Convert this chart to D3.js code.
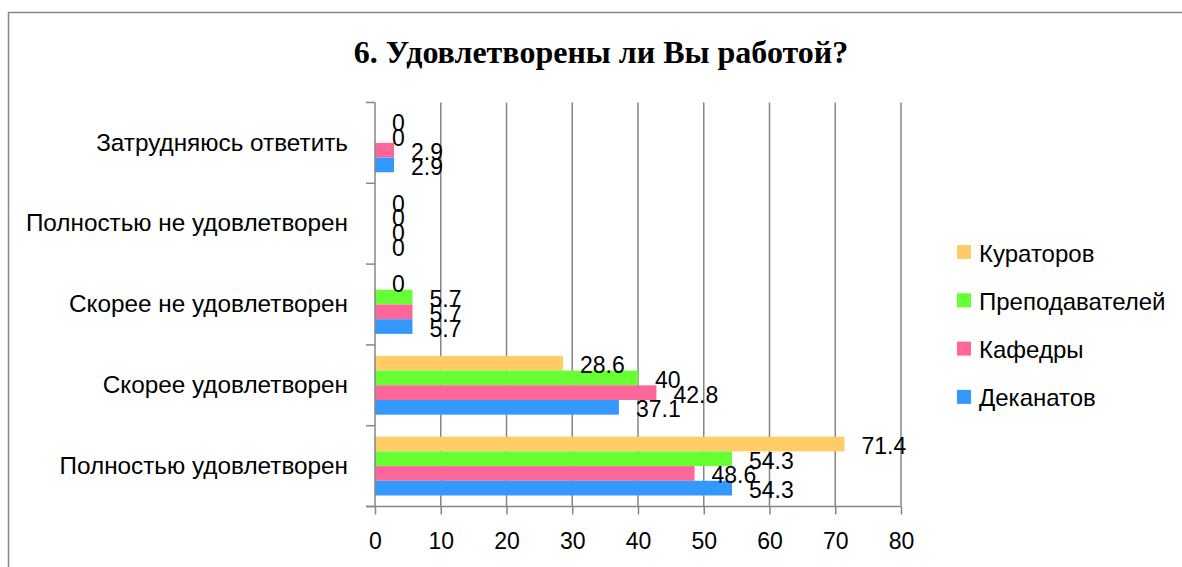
<!DOCTYPE html>
<html>
<head>
<meta charset="utf-8">
<script src="https://cdn.jsdelivr.net/npm/d3@7"></script>
<style>
  body { margin: 0; background: #fff; }
  svg { display: block; }
  .title { font-family: "Liberation Serif", "Times New Roman", serif; font-weight: bold; font-size: 32px; fill: #000; }
  .lbl, .tick text, .legend text { font-family: "Liberation Sans", Arial, sans-serif; fill: #000; }
  .axis path, .axis line { stroke: #868686; stroke-width: 1.5px; }
  .grid line { stroke: #868686; stroke-width: 1.5px; }
</style>
</head>
<body>
<div id="chart"></div>
<script>
// data
var categories = [
  'Затрудняюсь ответить',
  'Полностью не удовлетворен',
  'Скорее не удовлетворен',
  'Скорее удовлетворен',
  'Полностью удовлетворен'
];
var seriesNames = ['Кураторов', 'Преподавателей', 'Кафедры', 'Деканатов'];
var seriesColors = ['#FFCC66', '#66FF33', '#FF6699', '#3399FF'];
var kuratorov = [0, 0, 0, 28.6, 71.4];
var prepodavateley = [0, 0, 5.7, 40, 54.3];
var kafedry = [2.9, 0, 5.7, 42.8, 48.6];
var dekanatov = [2.9, 0, 5.7, 37.1, 54.3];
var xTicks = [0, 10, 20, 30, 40, 50, 60, 70, 80];

var seriesValues = [kuratorov, prepodavateley, kafedry, dekanatov];

var width = 1182, height = 567;
var plot = { left: 375, right: 901, top: 102.5, bottom: 506.5 };

var svg = d3.select('#chart').append('svg')
  .attr('width', width)
  .attr('height', height);

// outer frame (runs off the right and bottom edges)
svg.append('rect')
  .attr('x', 8.5).attr('y', 12.5)
  .attr('width', 1200).attr('height', 600)
  .attr('fill', 'none')
  .attr('stroke', '#868686')
  .attr('stroke-width', 1.5);

svg.append('text')
  .attr('class', 'title')
  .attr('x', 601).attr('y', 63)
  .attr('text-anchor', 'middle')
  .text('6. Удовлетворены ли Вы работой?');

var x = d3.scaleLinear().domain([0, 80]).range([plot.left, plot.right]);
var y = d3.scaleBand().domain(categories).range([plot.top, plot.bottom]);
// gap width 150% -> 0.75 bar on each side
var inner = d3.scaleBand().domain(d3.range(seriesNames.length))
  .range([0, y.bandwidth()]).paddingInner(0).paddingOuter(0.75);

// vertical gridlines
svg.append('g').attr('class', 'grid')
  .selectAll('line')
  .data(xTicks.slice(1))
  .enter().append('line')
    .attr('x1', function(d) { return x(d); })
    .attr('x2', function(d) { return x(d); })
    .attr('y1', plot.top)
    .attr('y2', plot.bottom);

// bars
var groups = svg.append('g').selectAll('g.cat')
  .data(categories)
  .enter().append('g')
    .attr('class', 'cat')
    .attr('transform', function(d) { return 'translate(0,' + y(d) + ')'; });

groups.each(function(cat, ci) {
  var g = d3.select(this);
  seriesValues.forEach(function(vals, si) {
    var v = vals[ci];
    if (v > 0) {
      g.append('rect')
        .attr('x', x(0))
        .attr('y', inner(si))
        .attr('width', x(v) - x(0))
        .attr('height', inner.bandwidth())
        .attr('fill', seriesColors[si]);
    }
  });
});

// axes
var xAxis = d3.axisBottom(x).tickValues(xTicks).tickSize(8).tickSizeOuter(0).tickPadding(18);
var gx = svg.append('g').attr('class', 'axis')
  .attr('transform', 'translate(0,' + plot.bottom + ')')
  .call(xAxis);
gx.select('.domain').attr('d', 'M' + (plot.left - 9) + ',0H' + plot.right);
gx.selectAll('.tick text').style('font-size', '23px');

var yAxis = d3.axisLeft(y).tickSize(0).tickPadding(27);
var gy = svg.append('g').attr('class', 'axis')
  .attr('transform', 'translate(' + plot.left + ',0)')
  .call(yAxis);
gy.select('.domain').attr('d', 'M0,' + plot.top + 'V' + plot.bottom);
gy.selectAll('.tick text').style('font-size', '24.3px');
// category boundary ticks
gy.selectAll('line.bound')
  .data(categories.map(function(c) { return y(c); }).concat([plot.bottom]))
  .enter().append('line')
    .attr('class', 'bound')
    .attr('x1', -9).attr('x2', 0)
    .attr('y1', function(d) { return d; })
    .attr('y2', function(d) { return d; });

// data labels
groups.each(function(cat, ci) {
  var g = d3.select(this);
  seriesValues.forEach(function(vals, si) {
    var v = vals[ci];
    g.append('text')
      .attr('class', 'lbl')
      .attr('x', x(v) + 17)
      .attr('y', inner(si) + inner.bandwidth() / 2 + 2)
      .attr('dominant-baseline', 'central')
      .style('font-size', '23px')
      .text(v);
  });
});

// legend
var legend = svg.append('g').attr('class', 'legend')
  .selectAll('g')
  .data(seriesNames)
  .enter().append('g')
    .attr('transform', function(d, i) { return 'translate(957,' + (252 + i * 48.3) + ')'; });

legend.append('rect')
  .attr('x', 0).attr('y', -7)
  .attr('width', 14).attr('height', 14)
  .attr('fill', function(d, i) { return seriesColors[i]; });

legend.append('text')
  .attr('x', 22).attr('y', 1)
  .attr('dominant-baseline', 'central')
  .style('font-size', '24px')
  .text(function(d) { return d; });
</script>
</body>
</html>
